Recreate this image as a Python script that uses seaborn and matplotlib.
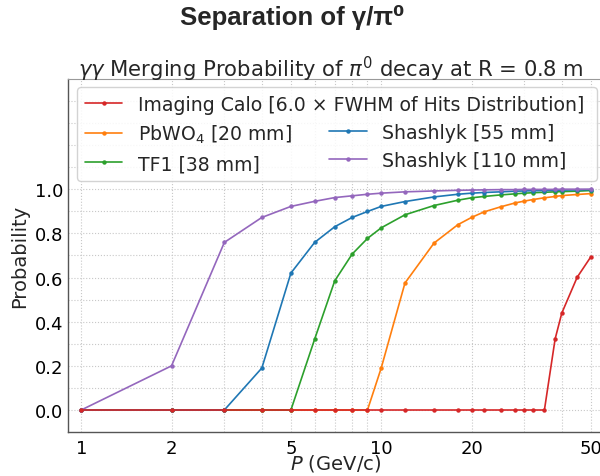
import matplotlib
matplotlib.use("Agg")
import matplotlib.pyplot as plt
import pandas as pd
import seaborn as sns
from matplotlib.lines import Line2D
from matplotlib.ticker import FixedLocator, NullFormatter

# ---------------- data ----------------
momentum = [1, 2, 3, 4, 5, 6, 7, 8, 9, 10, 12, 15, 18, 20, 22, 25, 28, 30, 32, 35, 38, 40, 45, 50]

imaging_calo = [0.0, 0.0, 0.0, 0.0, 0.0, 0.0, 0.0, 0.0, 0.0, 0.0, 0.0, 0.0,
                0.0, 0.0, 0.0, 0.0, 0.0, 0.0, 0.0, 0.0, 0.322, 0.439, 0.601, 0.694]
pbwo4_20 = [0.0, 0.0, 0.0, 0.0, 0.0, 0.0, 0.0, 0.0, 0.0, 0.19, 0.575, 0.756,
            0.839, 0.872, 0.897, 0.920, 0.938, 0.946, 0.953, 0.961, 0.967, 0.971, 0.976, 0.980]
tf1_38 = [0.0, 0.0, 0.0, 0.0, 0.0, 0.321, 0.585, 0.706, 0.777, 0.825, 0.884, 0.926,
          0.950, 0.961, 0.967, 0.974, 0.979, 0.982, 0.984, 0.986, 0.988, 0.989, 0.991, 0.994]
shashlyk_55 = [0.0, 0.0, 0.0, 0.19, 0.620, 0.759, 0.830, 0.872, 0.899, 0.922, 0.944, 0.965,
               0.977, 0.982, 0.985, 0.988, 0.991, 0.992, 0.993, 0.994, 0.995, 0.996, 0.997, 0.998]
shashlyk_110 = [0.0, 0.20, 0.759, 0.872, 0.922, 0.945, 0.962, 0.970, 0.977, 0.982, 0.988, 0.992,
                0.995, 0.996, 0.997, 0.998, 0.998, 0.999, 0.999, 0.999, 0.999, 1.0, 1.0, 1.0]

series_labels = [
    "Imaging Calo [6.0 \u00d7 FWHM of Hits Distribution]",
    "PbWO$_4$ [20 mm]",
    "TF1 [38 mm]",
    "Shashlyk [55 mm]",
    "Shashlyk [110 mm]",
]
series_values = [imaging_calo, pbwo4_20, tf1_38, shashlyk_55, shashlyk_110]
series_colors = ["#d62728", "#ff7f0e", "#2ca02c", "#1f77b4", "#9467bd"]

x_ticks = [1, 2, 5, 10, 20, 50]
x_ticklabels = ["1", "2", "5", "10", "20", "50"]
x_minor = [3, 4, 6, 7, 8, 9, 30, 40]
y_ticks = [0.0, 0.2, 0.4, 0.6, 0.8, 1.0]

rows = []
for lab, vals in zip(series_labels, series_values):
    for p, v in zip(momentum, vals):
        rows.append({"P": p, "prob": v, "det": lab})
df = pd.DataFrame(rows)

# ---------------- figure ----------------
sns.set_style("white")
plt.rcParams["font.family"] = ["DejaVu Sans"]

fig = plt.figure(figsize=(6.0, 4.77), dpi=100)
ax = fig.add_axes([67.5 / 600, 1 - 433 / 477, 535.8 / 600, 353 / 477])

sns.lineplot(data=df, x="P", y="prob", hue="det", hue_order=series_labels,
             palette=series_colors, marker="o", markersize=3.2, markeredgewidth=0,
             linewidth=1.2, estimator=None, sort=False, legend=False, ax=ax)

for ln in ax.lines:
    if matplotlib.colors.to_hex(ln.get_color()) == series_colors[0]:
        ln.set_zorder(4)
    else:
        ln.set_zorder(3)

ax.set_xscale("log")
ax.set_xlim(0.9, 55)
ax.set_ylim(-0.0996, 1.499)
ax.xaxis.set_major_locator(FixedLocator(x_ticks))
ax.set_xticklabels(x_ticklabels)
ax.xaxis.set_minor_locator(FixedLocator(x_minor))
ax.xaxis.set_minor_formatter(NullFormatter())
ax.set_yticks(y_ticks)
ax.set_yticklabels([f"{v:.1f}" for v in y_ticks])
ax.set_yticks([0.1, 0.3, 0.5, 0.7, 0.9, 1.1, 1.2, 1.3, 1.4], minor=True)

ax.tick_params(axis="both", which="both", direction="in", colors="#666666", labelcolor="black")
ax.tick_params(axis="both", which="major", length=4, labelsize=13)
ax.tick_params(axis="both", which="minor", length=2)
ax.tick_params(axis="x", which="major", pad=5)
ax.tick_params(axis="y", which="major", pad=3)

ax.grid(True, which="both", linestyle=":", linewidth=0.8, color="#c8c8c8")
ax.set_axisbelow(True)

for side in ["left", "bottom"]:
    ax.spines[side].set_color("#555555")
    ax.spines[side].set_linewidth(1.0)
ax.spines["top"].set_color("#999999")
ax.spines["right"].set_color("#999999")

ax.set_xlabel("$P$ (GeV/c)", fontsize=14, labelpad=-3.5)
ax.set_ylabel("Probability", fontsize=14, labelpad=4)
ax.set_title("$\\gamma\\gamma$ Merging Probability of $\\pi^0$ decay at R = 0.8 m",
             fontsize=15.2, pad=2, x=0.491)
fig.suptitle("Separation of \u03b3/\u03c0\u2070", fontsize=18.5, fontweight="bold",
             family=["Liberation Sans", "DejaVu Sans"], x=0.4875, y=0.99)

# ---------------- legend ----------------
def handle(c):
    return Line2D([], [], color=c, marker="o", markersize=3.2, markeredgewidth=0, linewidth=1.2)

blank = Line2D([], [], color="none")
handles = [handle(series_colors[0]), handle(series_colors[1]), handle(series_colors[2]),
           blank, handle(series_colors[3]), handle(series_colors[4])]
labels = [" ", series_labels[1], series_labels[2], "", series_labels[3], series_labels[4]]
leg_fs = 13.6
leg = ax.legend(handles, labels, ncol=2, loc="upper left",
                bbox_to_anchor=(0.018, 0.977), borderaxespad=0, fontsize=leg_fs,
                labelspacing=0.48, handlelength=2.0, handletextpad=0.8,
                columnspacing=2.0, frameon=True, fancybox=True,
                edgecolor="#cccccc", framealpha=0.85)

ann = ax.annotate(series_labels[0], xy=(0, 0), xycoords=leg.get_texts()[0],
                  va="bottom", ha="left", fontsize=leg_fs, zorder=6, annotation_clip=False)

# widen the legend frame (via a hidden spacer label) so the spanning first label fits
pad_text = leg.get_texts()[3]
pad_text.set_visible(False)
plain = series_labels[0]
best, best_err = "", 1e9
for i in range(len(plain) - 1, 10, -1):
    s = plain[i:]
    pad_text.set_text(s)
    fig.canvas.draw()
    r = fig.canvas.get_renderer()
    target = ann.get_window_extent(r).x1 + 6
    err = abs(leg.get_window_extent(r).x1 - target)
    if err < best_err:
        best, best_err = s, err
pad_text.set_text(best)

fig.savefig("out.png", dpi=100)
